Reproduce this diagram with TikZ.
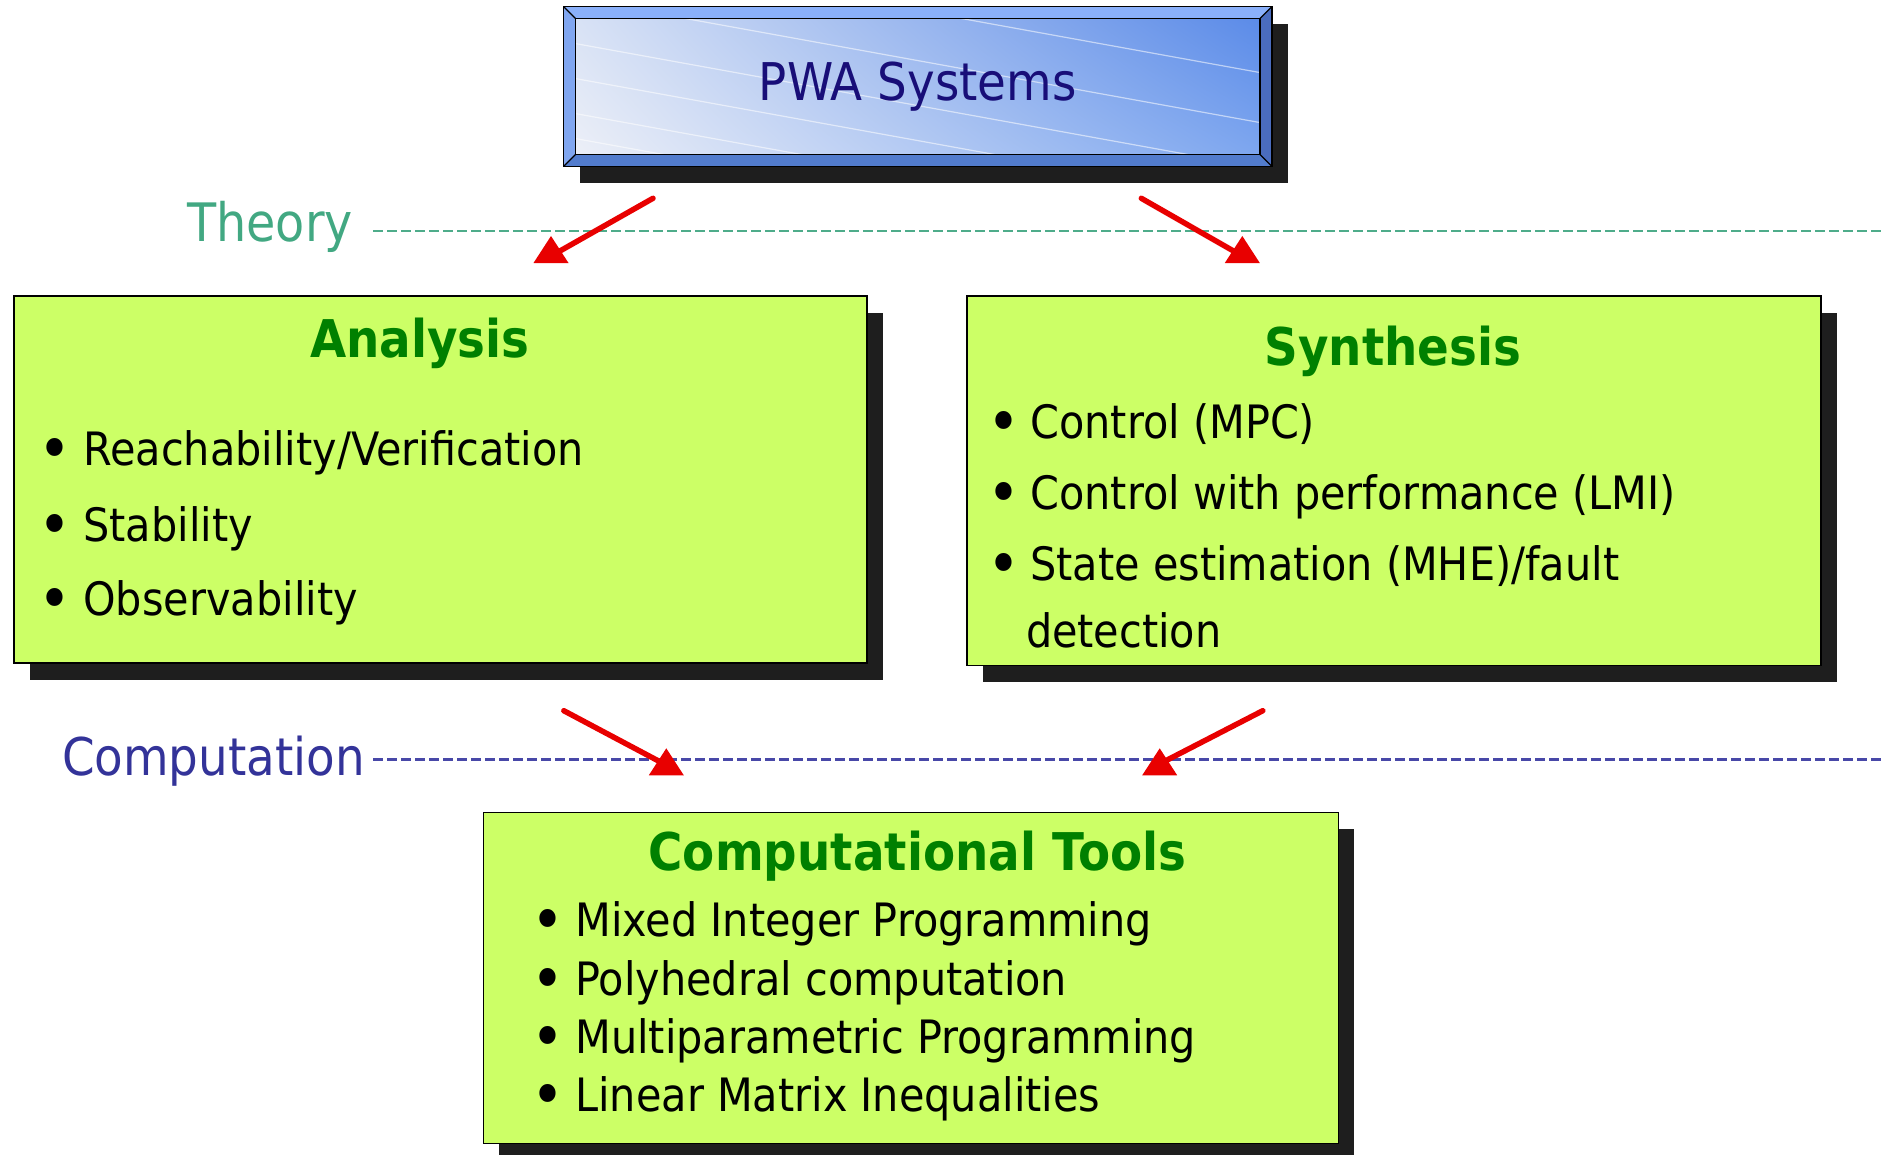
\documentclass[tikz,border=0pt]{standalone}
\usepackage{fontspec}
\setmainfont{DejaVu Sans}[FakeStretch=0.9]
\usetikzlibrary{calc,shadows,shadings}

\definecolor{boxgreen}{RGB}{204,255,102}
\definecolor{titlegreen}{RGB}{0,128,0}
\definecolor{shadowgrey}{RGB}{30,30,30}
\definecolor{arrowred}{RGB}{232,0,0}
\definecolor{theoryteal}{RGB}{66,168,130}
\definecolor{theoryline}{RGB}{78,172,138}
\definecolor{compblue}{RGB}{51,51,153}
\definecolor{compline}{RGB}{72,72,168}
\definecolor{pwanavy}{RGB}{24,14,120}
\definecolor{bevtop}{RGB}{138,176,250}
\definecolor{bevleft}{RGB}{128,166,240}
\definecolor{bevbottom}{RGB}{82,124,205}
\definecolor{bevright}{RGB}{74,108,190}
\definecolor{faceul}{RGB}{216,226,245}
\definecolor{facell}{RGB}{236,239,247}
\definecolor{faceur}{RGB}{91,139,232}
\definecolor{facelr}{RGB}{125,166,239}

\pgfdeclarelayer{bg}
\pgfsetlayers{bg,main}

\tikzset{
  greenbox/.style={draw=black, line width=0.75pt, fill=boxgreen,
    anchor=north west, inner sep=0pt,
    drop shadow={shadow xshift=8pt, shadow yshift=-8.5pt, fill=shadowgrey, opacity=1}},
  boxtitle/.style={anchor=base, inner sep=0pt, text=titlegreen,
    font=\bfseries\fontsize{26pt}{30pt}\selectfont},
  itemtext/.style={anchor=base west, inner sep=0pt,
    font=\fontsize{23pt}{27pt}\selectfont},
  itembullet/.style={anchor=base, inner sep=0pt,
    font=\fontsize{31pt}{31pt}\selectfont},
  levellabel/.style={anchor=base west, inner sep=0pt,
    font=\fontsize{26.5pt}{30pt}\selectfont},
  levelline/.style={line width=1.35pt, dash pattern=on 4.75pt off 2.25pt},
  redline/.style={draw=arrowred, line width=2.75pt, line cap=round},
  uphead/.pic={\fill[arrowred] (0,0) -- (17.5,27) -- (-17.5,27) -- cycle;}
}
\newcommand{\itemdot}{\raisebox{-2.6pt}{•}}

\begin{document}
\begin{tikzpicture}[x=0.5pt, y=-0.5pt]
\useasboundingbox (0,0) rectangle (1883,1155);

% ---- top box: bevelled blue panel ----
\node[minimum width=353.75pt, minimum height=79.5pt, inner sep=0pt,
      text=pwanavy, font=\fontsize{26pt}{30pt}\selectfont]
  (pwa) at (917.75,86.5) {PWA Systems};
\begin{pgfonlayer}{bg}
  \coordinate (nw) at (pwa.north west);
  \coordinate (ne) at (pwa.north east);
  \coordinate (sw) at (pwa.south west);
  \coordinate (se) at (pwa.south east);
  \coordinate (inw) at ($(nw)+(12,12)$);
  \coordinate (ine) at ($(ne)+(-12,12)$);
  \coordinate (isw) at ($(sw)+(12,-12)$);
  \coordinate (ise) at ($(se)+(-12,-12)$);
  \fill[shadowgrey] ($(nw)+(16,17)$) rectangle ($(se)+(16,17)$);
  \fill[bevtop] (nw) -- (ne) -- (ine) -- (inw) -- cycle;
  \fill[bevleft] (nw) -- (inw) -- (isw) -- (sw) -- cycle;
  \fill[bevbottom] (sw) -- (isw) -- (ise) -- (se) -- cycle;
  \fill[bevright] (ne) -- (se) -- (ise) -- (ine) -- cycle;
  \shade[upper left=faceul, lower left=facell,
         upper right=faceur, lower right=facelr]
    (inw) rectangle (ise);
  \begin{scope}
    \clip (inw) rectangle (ise);
    \foreach \yy in {-70,-20,25,60,95,120}
      \draw[white, opacity=0.55, line width=0.6pt]
        ($(inw)+(0,\yy)$) -- ($(inw)+(690,\yy+125)$);
  \end{scope}
  \draw[black, line width=0.75pt] (nw) rectangle (se);
  \draw[black, line width=0.6pt] (inw) rectangle (ise);
  \draw[black, line width=0.6pt] (nw) -- (inw) (ne) -- (ine)
    (sw) -- (isw) (se) -- (ise);
\end{pgfonlayer}

% ---- level labels and dashed separators ----
\node[levellabel, text=theoryteal] (theory) at (186.7,241.7) {Theory};
\coordinate (thl) at (373,231);
\coordinate (thr) at (1883,231);
\draw[levelline, theoryline] (thl) -- (thr);

\node[levellabel, text=compblue, font=\fontsize{26pt}{30pt}\selectfont]
  (comp) at (61.7,775) {Computation};
\coordinate (cpl) at (373,759.3);
\coordinate (cpr) at (1883,759.3);
\draw[levelline, compline] (cpl) -- (cpr);

% ---- green boxes ----
\node[greenbox, minimum width=426.5pt, minimum height=183.5pt] (ana) at (13,295) {};
\node[greenbox, minimum width=427pt, minimum height=184.75pt] (syn) at (966,295) {};
\node[greenbox, minimum width=427.5pt, minimum height=165.5pt] (tools) at (482.7,811.7) {};

% Analysis
\node[boxtitle] (anatitle) at (420,357) {Analysis};
\node[itembullet] (ab1) at (54.6,465) {\itemdot};
\node[itemtext] (at1) at (83,465) {Reachability/Verification};
\node[itembullet] (ab2) at (54.6,541.7) {\itemdot};
\node[itemtext] (at2) at (83,541.7) {Stability};
\node[itembullet] (ab3) at (54.6,615) {\itemdot};
\node[itemtext] (at3) at (83,615) {Observability};

% Synthesis
\node[boxtitle] (syntitle) at (1393,365) {Synthesis};
\node[itembullet] (sb1) at (1003.6,438) {\itemdot};
\node[itemtext] (st1) at (1030,438) {Control (MPC)};
\node[itembullet] (sb2) at (1003.6,509) {\itemdot};
\node[itemtext] (st2) at (1030,509) {Control with performance (LMI)};
\node[itembullet] (sb3) at (1003.6,580) {\itemdot};
\node[itemtext] (st3) at (1030,580) {State estimation (MHE)/fault};
\node[itemtext] (st4) at (1025.6,647) {detection};

% Computational tools
\node[boxtitle] (tooltitle) at (917.5,870) {Computational Tools};
\node[itembullet] (tb1) at (547.5,936.7) {\itemdot};
\node[itemtext] (tt1) at (575,936.7) {Mixed Integer Programming};
\node[itembullet] (tb2) at (547.5,995) {\itemdot};
\node[itemtext] (tt2) at (575,995) {Polyhedral computation};
\node[itembullet] (tb3) at (547.5,1053) {\itemdot};
\node[itemtext] (tt3) at (575,1053) {Multiparametric Programming};
\node[itembullet] (tb4) at (547.5,1111.7) {\itemdot};
\node[itemtext] (tt4) at (575,1111.7) {Linear Matrix Inequalities};

% ---- red arrows ----
\coordinate (a1s) at (653,198.3);   \coordinate (a1e) at (558.7,251.7); \coordinate (a1t) at (551,236);
\coordinate (a2s) at (1141.3,198.3);\coordinate (a2e) at (1234.7,251.7);\coordinate (a2t) at (1242.3,236);
\coordinate (a3s) at (563.8,710.7); \coordinate (a3e) at (658,760.7);   \coordinate (a3t) at (666.3,748.3);
\coordinate (a4s) at (1262.8,710.7);\coordinate (a4e) at (1165.8,760.7);\coordinate (a4t) at (1159.7,748.3);
\draw[redline] (a1s) -- (a1e);
\draw[redline] (a2s) -- (a2e);
\draw[redline] (a3s) -- (a3e);
\draw[redline] (a4s) -- (a4e);
\pic at (a1t) {uphead};
\pic at (a2t) {uphead};
\pic at (a3t) {uphead};
\pic at (a4t) {uphead};
\end{tikzpicture}
\end{document}
